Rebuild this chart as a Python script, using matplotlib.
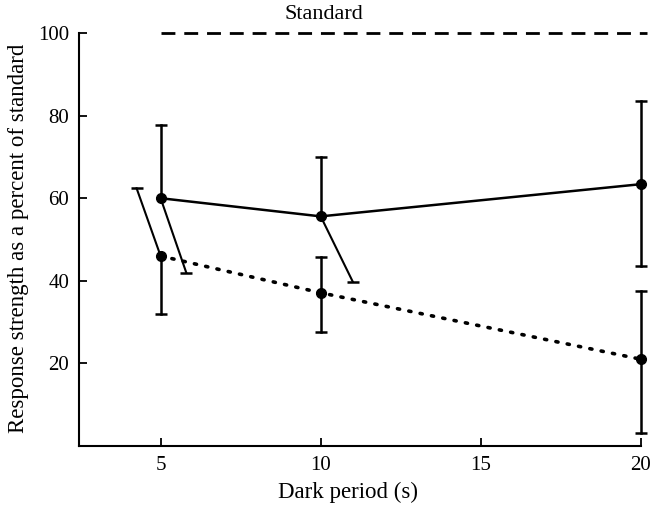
import matplotlib
matplotlib.use("Agg")
import matplotlib.pyplot as plt

plt.rcParams['font.family'] = ['Liberation Serif', 'DejaVu Serif']

dark = [5, 10, 20]
solid_mean = [60, 55.6, 63.4]
solid_upper = [77.8, 70.0, 83.6]
solid_lower = [None, None, 43.6]
dotted_mean = [46, 37.1, 21.0]
dotted_upper = [None, 45.8, 37.6]
dotted_lower = [32.0, 27.7, 3.1]
# slanted error bars: (start x, start y, end x, end y)
slanted_x0 = [5, 5, 10]
slanted_y0 = [46, 60, 55.6]
slanted_x1 = [4.25, 5.8, 11.0]
slanted_y1 = [62.4, 42.0, 39.8]
standard_x = [5, 20.2]
standard_y = [100, 100]
xticks = [5, 10, 15, 20]
yticks = [20, 40, 60, 80, 100]

fig = plt.figure(figsize=(6.5, 5.09), dpi=100)
ax = fig.add_axes([0.1215, 0.1238, 0.8645, 0.86])
ax.set_xlim(2.45, 20)
ax.set_ylim(0, 106)

lw = 1.8
cap = 8.5
ax.plot(dark, solid_mean, color='black', lw=lw, marker='o', ms=7, zorder=3, clip_on=False)
ax.plot(dark, dotted_mean, color='black', lw=2.6, linestyle=(0, (0.6, 2.6)),
        dash_capstyle='round', marker='o', ms=7, zorder=3, clip_on=False)

def vbar(x, y0, y1):
    ax.plot([x, x], [y0, y1], color='black', lw=lw, clip_on=False)
    ax.plot([x], [y1], marker='_', ms=cap, mew=lw, color='black', clip_on=False)

for x, m, u, l in zip(dark, solid_mean, solid_upper, solid_lower):
    if u is not None:
        vbar(x, m, u)
    if l is not None:
        vbar(x, m, l)
for x, m, u, l in zip(dark, dotted_mean, dotted_upper, dotted_lower):
    if u is not None:
        vbar(x, m, u)
    if l is not None:
        vbar(x, m, l)
for x0, y0, x1, y1 in zip(slanted_x0, slanted_y0, slanted_x1, slanted_y1):
    ax.plot([x0, x1], [y0, y1], color='black', lw=1.5, clip_on=False)
    ax.plot([x1], [y1], marker='_', ms=cap, mew=lw, color='black', clip_on=False)

ax.plot(standard_x, standard_y, color='black', lw=2, linestyle=(0, (5, 3.2)), clip_on=False)
ax.text(10.1, 104.5, 'Standard', ha='center', va='center', fontsize=16)

for s in ['top', 'right']:
    ax.spines[s].set_visible(False)
ax.spines['left'].set_bounds(0, 100)
ax.spines['left'].set_linewidth(1.5)
ax.spines['bottom'].set_linewidth(1.5)
ax.set_xticks(xticks)
ax.set_xticklabels([str(t) for t in xticks])
ax.set_yticks(yticks)
ax.set_yticklabels([str(t) for t in yticks])
ax.tick_params(direction='in', length=6, width=1.3, labelsize=15, pad=7)
ax.set_xlabel('Dark period (s)', fontsize=16.5)
ax.set_ylabel('Response strength as a percent of standard', fontsize=16.5)
ax.xaxis.set_label_coords(0.479, -0.107)
ax.yaxis.set_label_coords(-0.1085, 0.475)
ax.xaxis.label.set_va('center')
ax.yaxis.label.set_va('center')

fig.savefig('out.png', dpi=100)
